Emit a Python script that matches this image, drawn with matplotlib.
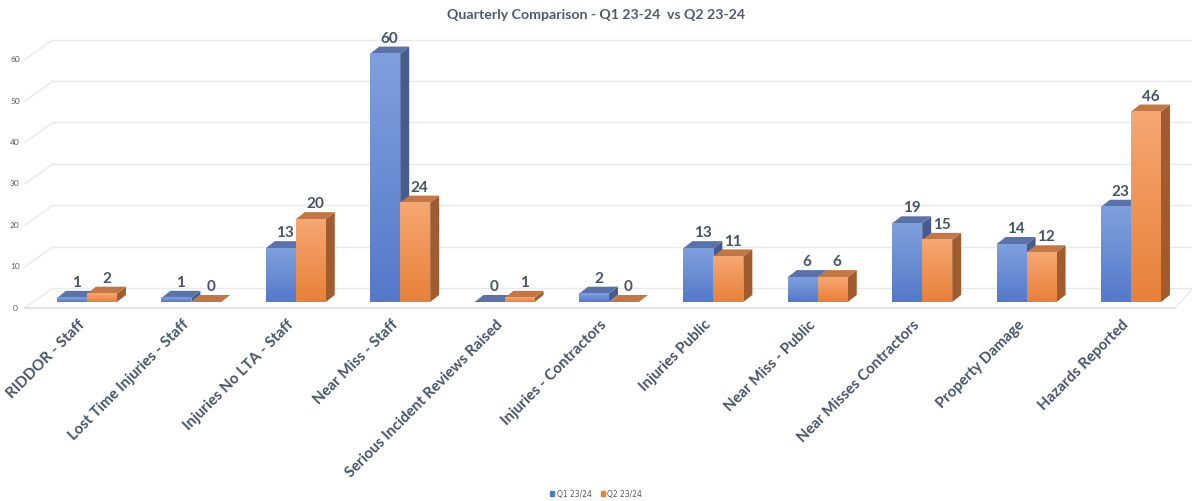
import numpy as np
import matplotlib.pyplot as plt
from matplotlib.colors import LinearSegmentedColormap
from matplotlib.patches import Polygon, Patch

categories = ["RIDDOR - Staff", "Lost Time Injuries - Staff", "Injuries No LTA - Staff",
              "Near Miss - Staff", "Serious Incident Reviews Raised", "Injuries - Contractors",
              "Injuries Public", "Near Miss - Public", "Near Misses Contractors",
              "Property Damage", "Hazards Reported"]
q1 = [1, 1, 13, 60, 0, 2, 13, 6, 19, 14, 23]
q2 = [2, 0, 20, 24, 1, 0, 11, 6, 15, 12, 46]
series_names = ["Q1 23/24", "Q2 23/24"]
yticks = [0, 10, 20, 30, 40, 50, 60]

txt = "#44546A"
bw = 0.287          # bar width (category units)
dx, dy = 0.086, 1.7  # bar depth offset
fdy, bdy = -1.45, 3.38   # floor front / back wall offset (value units)
fx0, bx0 = -0.594, -0.326

fig = plt.figure(figsize=(11.92, 5.01), dpi=100)
ax = fig.add_axes([0, 0, 1, 1])
ax.axis("off")

x = np.arange(len(categories))

# back wall gridlines and left diagonals
for t in yticks:
    ax.plot([bx0, 10.6], [t + bdy, t + bdy], color="#E9E9E9", lw=1, zorder=1)
    ax.plot([fx0, bx0], [t + fdy, t + bdy], color="#E9E9E9", lw=1, zorder=1)
    ax.text(-0.69, t + fdy, str(t), fontsize=6, color="#595959", ha="center", va="center",
            family="Lato")
# floor front edge
ax.plot([fx0, 10.42], [fdy, fdy], color="#D9DEE8", lw=1.2, zorder=1)
ax.plot([10.42, 10.6], [fdy, bdy], color="#E9E9E9", lw=1, zorder=1)

styles = [
    dict(lo="#5479C9", hi="#7FA0DE", side="#475C8C", top="#5B72A8"),
    dict(lo="#E8803A", hi="#F6A772", side="#A05C2E", top="#C17846"),
]

z = 2
for i in range(len(categories)):
    for s, vals in enumerate([q1, q2]):
        st = styles[s]
        v = vals[i]
        x0 = x[i] - bw + s * bw
        x1 = x0 + bw
        # side face
        ax.add_patch(Polygon([[x1, 0], [x1 + dx, dy], [x1 + dx, v + dy], [x1, v]],
                             closed=True, fc=st["side"], ec="none", zorder=z))
        # top face
        ax.add_patch(Polygon([[x0, v], [x0 + dx, v + dy], [x1 + dx, v + dy], [x1, v]],
                             closed=True, fc=st["top"], ec="none", zorder=z))
        # front face with gradient
        if v > 0:
            cm = LinearSegmentedColormap.from_list("g", [st["lo"], st["hi"]])
            ax.imshow(np.linspace(0, 1, 100).reshape(-1, 1), extent=(x0, x1, 0, v),
                      origin="lower", cmap=cm, aspect="auto", zorder=z)
        ax.text((x0 + x1 + dx) / 2, v + dy + 0.2, str(v), ha="center", va="bottom",
                fontsize=11, fontweight="bold", color=txt, family="Lato", zorder=50)
        z += 1

# category labels
for i, c in enumerate(categories):
    ax.text(x[i] - 0.09, -3.8, c, rotation=45, rotation_mode="anchor", ha="right", va="top",
            fontsize=10.8, fontweight="bold", color=txt, family="Lato")

ax.set_xlim(-87 / 104.4, (1192 - 87) / 104.4)
ax.set_ylim((302 - 501) / 4.14, 302 / 4.14)

fig.text(0.5, 1 - 15 / 501, "Quarterly Comparison - Q1 23-24  vs Q2 23-24", ha="center",
         va="center", fontsize=10.2, fontweight="bold", color="#515A6B", family="Lato")

handles = [Patch(color=styles[0]["lo"]), Patch(color=styles[1]["lo"])]
fig.legend(handles, series_names, loc="center", bbox_to_anchor=(0.5, 1 - 494 / 501), ncol=2,
           frameon=False, fontsize=5.5, handlelength=0.6, handleheight=0.6, handletextpad=0.3,
           columnspacing=1.2, labelcolor="#595959")

fig.savefig("out.png", dpi=100)
